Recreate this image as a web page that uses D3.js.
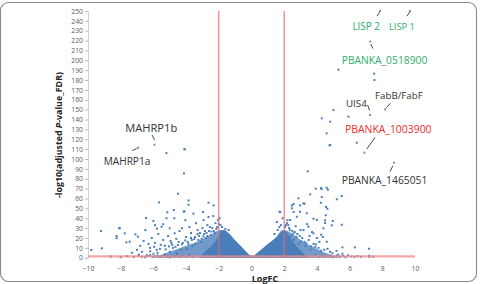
<!DOCTYPE html>
<html><head><meta charset="utf-8">
<script src="https://cdn.jsdelivr.net/npm/d3@7"></script>
<style>
html,body{margin:0;padding:0;background:#fff;}
svg{display:block;}
text{font-family:"Open Sans","Liberation Sans",sans-serif;}
</style></head>
<body>
<svg id="chart" width="481" height="284"></svg>
<script>
// ---------- DATA ----------
const xTickValues = [-10,-8,-6,-4,-2,0,2,4,6,8,10];
const yTickValues = [0,10,20,30,40,50,60,70,80,90,100,110,120,130,140,150,160,170,180,190,200,210,220,230,240,250];
const foldCutoffs = [-2, 2];
const fdrCutoff = 1.3;

// dense core of the volcano: [logFC, upper -log10 FDR]
const coreEnvelope = [[-3.2,0],[-2.9,5],[-2.6,10],[-2.3,15],[-2.05,21],[-1.9,27],[-1.7,28],[-1.4,25],[-1.1,19.5],[-0.8,14],[-0.5,9],[-0.3,5.5],[-0.1,2.5],[0.1,2],[0.3,4],[0.6,8],[0.9,12.6],[1.3,17.6],[1.6,22],[1.85,26.5],[2.05,27.5],[2.3,22],[2.6,15],[2.9,9],[3.2,4],[3.5,0]];
const outerEnvelope = [[-6.0,0],[-5.5,3],[-5,6],[-4.5,9],[-4,12],[-3.5,15],[-3,19],[-2.5,23],[-2.1,27],[-1.9,28],[-1.6,26],[-1.1,19],[-0.6,11],[-0.2,3.5],[0.1,2],[0.5,7],[1.0,13.5],[1.5,20.5],[1.9,28],[2.2,27],[2.6,23],[3.0,18],[3.5,13],[4.0,9],[4.5,5],[5,2.5],[5.5,0]];

const leftPoints = [[-9.8,7.8],[-9.15,9.5],[-9.2,27],[-8.05,29.8],[-8.1,30],[-8.25,22],[-8.25,19.7],[-7.75,24.7],[-7.65,15.6],[-7.1,23.7],[-6.95,21.3],[-7.45,16.2],[-7.3,5],[-7.0,8],[-6.8,12],[-6.7,6],[-6.5,28],[-6.45,40.2],[-6.6,17],[-6.3,14],[-6.2,10],[-6.1,20],[-6.0,37.2],[-6.0,4],[-5.9,33],[-5.9,15],[-5.8,8],[-5.78,29.4],[-5.7,24],[-5.66,56],[-5.5,31.4],[-5.4,34],[-5.4,18],[-5.3,12],[-5.2,40],[-5.2,106],[-5.15,46],[-5.1,22],[-5.0,29.8],[-5.0,6],[-4.9,15],[-4.8,10],[-4.75,48.3],[-4.72,40],[-4.7,24.7],[-4.6,19],[-4.5,64.9],[-4.5,13],[-4.4,27],[-4.3,8],[-4.25,29.8],[-4.15,46.6],[-4.13,85.5],[-4.1,110],[-4.1,47],[-4.05,38],[-4.0,21],[-3.9,16],[-3.85,58],[-3.85,53.7],[-3.8,31],[-3.7,25],[-3.6,12],[-3.55,44.6],[-3.5,19],[-3.4,35],[-3.3,28],[-3.2,22],[-3.1,16],[-3.0,30],[-2.97,46.3],[-2.93,38],[-2.9,24],[-2.8,20],[-2.7,33],[-2.63,55.7],[-2.63,41.2],[-2.6,27],[-2.5,23],[-2.4,30],[-2.34,42.2],[-2.32,53],[-2.2,35],[-2.1,31],[-2.05,38],[-2.0,34],[-1.95,40],[-1.9,33],[-6.9,3],[-6.4,2.5],[-5.6,9],[-5.3,3.5],[-4.95,17],[-4.6,5],[-4.2,15],[-3.95,9],[-3.7,20],[-3.45,14],[-3.3,24],[-3.05,19],[-2.85,27],[-2.7,22],[-2.55,31],[-2.3,27],[-2.15,29],[-6.2,6.5],[-5.95,11],[-5.75,5],[-5.55,13],[-5.25,8.5],[-5.05,11.5],[-4.85,13],[-4.65,11],[-4.45,16],[-4.25,13.5],[-4.05,17.5],[-3.85,14],[-3.65,18],[-3.45,21],[-3.25,18],[-3.15,25],[-2.95,21.5],[-2.75,25],[-2.45,26.5],[-2.25,25],[-1.8,31],[-1.6,29],[-1.4,28]];

const rightPoints = [[1.55,36.2],[1.71,46.6],[1.75,46.3],[1.8,33],[1.9,40],[2.1,33],[2.16,35],[2.2,38],[2.3,30],[2.36,38.2],[2.4,22],[2.47,50],[2.47,53],[2.5,27],[2.57,54.4],[2.57,46.3],[2.6,18],[2.7,32],[2.77,41.5],[2.8,24],[2.87,60.2],[2.9,14],[2.97,46.6],[2.97,53],[3.0,28],[3.1,20],[3.18,55.1],[3.18,28],[3.24,54.7],[3.3,12],[3.38,45],[3.4,34],[3.44,87.5],[3.48,31.4],[3.5,18],[3.59,64.2],[3.6,8],[3.7,26],[3.79,24.7],[3.79,39.5],[3.8,14],[3.93,69.9],[4.0,38.2],[4.0,20],[4.1,10],[4.24,55.7],[4.26,70.6],[4.26,23.3],[4.28,69.6],[4.3,61.5],[4.36,21],[4.4,29.8],[4.5,37.9],[4.5,35.2],[4.54,43],[4.56,51.4],[4.6,70.9],[4.6,16.2],[4.64,49.6],[4.67,68.9],[4.77,113.9],[4.8,6],[4.91,32.8],[4.97,37.2],[5.22,59.2],[5.52,62.5],[5.52,33.4],[5.56,10.5],[5.56,4],[6.32,10.5],[7.19,9.1],[2.05,31],[2.25,33],[2.65,26],[2.95,22],[3.25,16],[3.55,22],[3.9,11],[4.15,16],[4.45,8],[1.4,24],[1.6,28],[1.7,31],[2.35,28],[2.55,24.5],[2.75,21],[3.05,16.5],[3.35,14.5],[3.65,11.5],[3.95,13.5],[4.25,7],[4.65,9],[4.95,4.5],[5.2,7],[5.3,3]];

const highPoints = [[4.3,141.2],[4.81,137.8],[4.6,126],[4.81,114.2],[5.01,149.6],[5.32,190.5],[5.93,142.9],[6.44,116.5],[7.5,186.5],[7.52,180],[-4.09,109.8]];

const baselinePoints = [[-8.6,1.2],[-8.0,0.6],[-7.6,1.5],[-7.2,0.8],[-6.9,2.1],[-6.7,1.1],[-6.5,0.5],[-6.35,1.8],[-6.2,2.6],[-6.05,0.9],[-5.9,1.6],[-5.75,2.3],[-5.6,0.7],[-5.45,1.4],[-5.3,2.8],[-5.15,1.0],[-5.0,0.4],[-4.85,2.0],[-4.7,1.3],[-4.55,3.2],[-4.4,0.8],[-4.2,2.2],[-4.0,1.1],[-3.8,2.7],[-3.6,0.6],[3.7,1.4],[3.9,2.5],[4.1,0.7],[4.3,1.9],[4.5,1.0],[4.8,1.5],[5.0,0.6],[5.2,2.2],[5.4,1.0],[5.6,1.8],[5.75,0.5],[5.9,2.4],[6.1,1.2],[6.3,0.8],[6.5,1.6],[6.7,1.0],[7.2,0.9],[7.2,2.0],[7.45,1.1]];

const geneNames = ["LISP 2","LISP 1","PBANKA_0518900","FabB/FabF","UIS4","PBANKA_1003900","PBANKA_1465051","MAHRP1b","MAHRP1a"];
const geneLogFC = [7.86,9.69,7.26,8.17,7.25,6.9,8.72,-5.94,-6.94];
const geneNegLogFDR = [250,250,219,150.4,144.6,106.4,96.3,114.5,111.4];

// ---------- LAYOUT / STYLE ----------
const svg = d3.select("#chart");
const x = d3.scaleLinear().domain([-10,10]).range([88,415]);
const y = d3.scaleLinear().domain([0,250]).range([257.7,11]);
const blue = "#4a7ebb";

svg.append("rect").attr("x",0.5).attr("y",2.5).attr("width",476).attr("height",279)
  .attr("rx",8).attr("fill","#fff").attr("stroke","#8a8a8a").attr("stroke-width",1.1);

// y axis
const yAxis = d3.axisLeft(y).tickValues(yTickValues).tickSize(3).tickPadding(2).tickFormat(d3.format("d"));
const gy = svg.append("g").attr("transform","translate(88,0)").call(yAxis);
gy.select(".domain").attr("stroke","#d0d0d0");
gy.selectAll(".tick line").attr("stroke","#bdbdbd");
gy.selectAll(".tick text").attr("fill","#595959").style("font-size","6.8px").style("font-family","'Open Sans',sans-serif");

// x axis labels
const xAxis = d3.axisBottom(x).tickValues(xTickValues).tickSize(0).tickPadding(8).tickFormat(d3.format("d"));
const gx = svg.append("g").attr("transform","translate(0,257.7)").call(xAxis);
gx.select(".domain").remove();
gx.selectAll(".tick text").attr("fill","#595959").style("font-size","6.8px").style("font-family","'Open Sans',sans-serif");

// density envelopes
const area = d3.area().x(d=>x(d[0])).y0(y(0)).y1(d=>y(d[1])).curve(d3.curveMonotoneX);
svg.append("path").datum(outerEnvelope).attr("d",area).attr("fill",blue).attr("opacity",0.78);
svg.append("path").datum(coreEnvelope).attr("d",area).attr("fill",blue);

const allPts = leftPoints.concat(rightPoints, highPoints, baselinePoints);
svg.append("g").selectAll("rect").data(allPts).join("rect")
  .attr("x",d=>x(d[0])-1).attr("y",d=>y(d[1])-1).attr("width",2).attr("height",2).attr("fill",blue);

// highlighted genes (plotted as normal points)
svg.append("g").selectAll("rect").data(geneNames.map((n,i)=>[geneLogFC[i],geneNegLogFDR[i]])).join("rect")
  .attr("x",d=>x(d[0])-1).attr("y",d=>y(d[1])-1).attr("width",2).attr("height",2).attr("fill","#7a8fbf");

// cutoff lines
svg.append("line").attr("x1",x(-10)).attr("x2",x(10)).attr("y1",y(fdrCutoff)).attr("y2",y(fdrCutoff))
  .attr("stroke","#f08a8a").attr("stroke-width",2.2).attr("opacity",0.75);
svg.selectAll(".vcut").data(foldCutoffs).join("line").attr("class","vcut")
  .attr("x1",d=>x(d)).attr("x2",d=>x(d)).attr("y1",y(250)).attr("y2",y(0))
  .attr("stroke","#e8696b").attr("stroke-width",1.2).attr("opacity",0.85);

// annotations: label anchor (data units), leader (data units), target width(px), colour
const green = "#2fae6a", red = "#ee2b2b", dark = "#333333";
const annot = [
  {lx:6.17, ly:230.7, w:27.7, c:green, leader:[[7.68,244.9],[7.84,249]]},
  {lx:8.41, ly:230.7, w:26.0, c:green, leader:[[9.51,244.9],[9.67,249]]},
  {lx:5.52, ly:196.2, w:85.6, c:green, leader:[[7.29,216.5],[7.42,212]]},
  {lx:7.56, ly:160.6, w:47.7, c:dark,  leader:[[8.5,156.5],[8.24,152]]},
  {lx:5.78, ly:153.0, w:20.7, c:dark,  leader:[[7.1,154.7],[7.22,149.2]]},
  {lx:5.72, ly:126.3, w:86.7, c:red,   leader:[[7.56,122],[7.05,110.1]]},
  {lx:5.52, ly:75.0,  w:85.6, c:dark,  leader:[[8.47,87.1],[8.64,92.9]]},
  {lx:-7.72,ly:127.4, w:52.0, c:dark,  leader:[[-6.08,124.3],[-5.92,119.0]]},
  {lx:-9.04,ly:94.2,  w:46.7, c:dark,  leader:[[-7.29,108.6],[-7.02,110.6]]}
];
annot.forEach((a,i)=>{
  svg.append("line").attr("x1",x(a.leader[0][0])).attr("y1",y(a.leader[0][1]))
    .attr("x2",x(a.leader[1][0])).attr("y2",y(a.leader[1][1]))
    .attr("stroke","#333").attr("stroke-width",0.9);
  const t = svg.append("text").attr("x",x(a.lx)).attr("y",y(a.ly)).attr("fill",a.c)
    .style("font-size","11px").style("font-family","'Open Sans',sans-serif").text(geneNames[i]);
  const len = t.node().getComputedTextLength();
  t.style("font-size",(11*a.w/len).toFixed(2)+"px");
});

// axis titles
svg.append("text").attr("x",265).attr("y",282).attr("text-anchor","middle")
  .style("font-weight","bold").style("font-size","9px").attr("fill","#222").text("LogFC");
const ytitle = svg.append("text").attr("transform","translate(62,135) rotate(-90)").attr("text-anchor","middle")
  .style("font-weight","bold").style("font-size","9px").attr("fill","#222");
ytitle.append("tspan").text("-log10(adjusted ");
ytitle.append("tspan").style("font-style","italic").text("P");
ytitle.append("tspan").text("-value_FDR)");
const yl = ytitle.node().getComputedTextLength();
ytitle.style("font-size",(9*126/yl).toFixed(2)+"px");
</script>
</body></html>
